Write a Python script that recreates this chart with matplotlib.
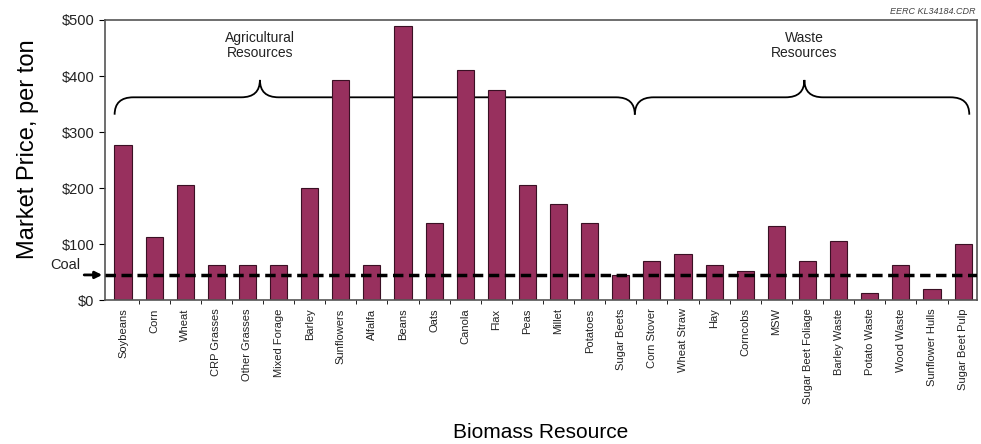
import numpy as np
import matplotlib.pyplot as plt
from matplotlib.path import Path
from matplotlib.patches import PathPatch
import matplotlib.transforms as mtransforms

resources = ['Soybeans', 'Corn', 'Wheat', 'CRP Grasses', 'Other Grasses', 'Mixed Forage',
             'Barley', 'Sunflowers', 'Alfalfa', 'Beans', 'Oats', 'Canola', 'Flax', 'Peas',
             'Millet', 'Potatoes', 'Sugar Beets', 'Corn Stover', 'Wheat Straw', 'Hay',
             'Corncobs', 'MSW', 'Sugar Beet Foliage', 'Barley Waste', 'Potato Waste',
             'Wood Waste', 'Sunflower Hulls', 'Sugar Beet Pulp']
prices = [276, 113, 205, 63, 63, 63, 200, 393, 63, 489, 137, 410, 375, 205,
          172, 137, 45, 70, 83, 63, 52, 133, 70, 105, 12, 63, 20, 101]
coal_price = 45
n_agri = 17
y_ticks = [0, 100, 200, 300, 400, 500]
y_tick_labels = ['$0', '$100', '$200', '$300', '$400', '$500']


def brace(ax, x0, x1, xtip, y, h):
    # curly brace opening downward, tip pointing up at xtip
    q = h * 0.5
    verts = [(x0, y - q), (x0, y), (x0 + 0.6, y),
             (xtip - 0.6, y), (xtip, y), (xtip, y + q),
             (xtip, y), (xtip + 0.6, y),
             (x1 - 0.6, y), (x1, y), (x1, y - q)]
    codes = [Path.MOVETO, Path.CURVE3, Path.CURVE3,
             Path.LINETO, Path.CURVE3, Path.CURVE3,
             Path.CURVE3, Path.CURVE3,
             Path.LINETO, Path.CURVE3, Path.CURVE3]
    ax.add_patch(PathPatch(Path(verts, codes), fill=False, lw=1.3, color='black',
                           clip_on=False))


def main():
    plt.rcParams['font.family'] = ['Liberation Sans', 'DejaVu Sans']
    fig = plt.figure(figsize=(9.81, 4.44), dpi=100)
    ax = fig.add_axes([0.107, 0.324, 0.889, 0.631])

    x = np.arange(len(resources))
    ax.bar(x, prices, width=0.55, color='#98305e', edgecolor='#3a1024', lw=0.8, zorder=2)
    ax.axhline(coal_price, color='black', lw=2.5, ls=(0, (3, 1.6)), zorder=3)

    ax.set_xlim(-0.58, 27.45)
    ax.set_ylim(0, 500)
    ax.set_yticks(y_ticks)
    ax.set_yticklabels(y_tick_labels, fontsize=10.5, color='#222222')
    ax.set_xticks(x)
    ax.set_xticklabels(resources, rotation=90, fontsize=8, color='#222222')
    ax.tick_params(axis='x', which='major', length=0, pad=6)
    ax.set_xticks(x[:-1] + 0.5, minor=True)
    ax.tick_params(axis='x', which='minor', length=3, direction='out')
    ax.tick_params(axis='y', length=4, direction='out')
    for s in ax.spines.values():
        s.set_color('#555555')
        s.set_linewidth(1.2)

    ax.set_ylabel('Market Price, per ton', fontsize=17)
    ax.yaxis.set_label_coords(-0.076, 0.54)
    ax.set_xlabel('Biomass Resource', fontsize=15)
    ax.xaxis.set_label_coords(0.5, -0.44)

    # coal marker
    trans = mtransforms.blended_transform_factory(ax.transAxes, ax.transData)
    ax.annotate('', xy=(0.0, coal_price), xytext=(-0.027, coal_price),
                xycoords=trans, textcoords=trans,
                arrowprops=dict(arrowstyle='-|>', color='black', lw=2, mutation_scale=10),
                annotation_clip=False)
    ax.text(-0.028, coal_price + 6, 'Coal', transform=trans, ha='right', va='bottom',
            fontsize=10.5, color='#222222')

    # group braces
    brace(ax, -0.27, n_agri - 0.55, 4.4, 362, 62)
    brace(ax, n_agri - 0.55, 27.2, 21.9, 362, 62)
    ax.text(4.4, 455, 'Agricultural\nResources', ha='center', va='center', fontsize=10,
            color='#222222', linespacing=1.1)
    ax.text(21.9, 455, 'Waste\nResources', ha='center', va='center', fontsize=10,
            color='#222222', linespacing=1.1)

    fig.text(0.994, 0.985, 'EERC KL34184.CDR', ha='right', va='top', fontsize=6.5,
             style='italic', color='#444444')

    fig.savefig('out.png', dpi=100)


if __name__ == "__main__":
    main()
